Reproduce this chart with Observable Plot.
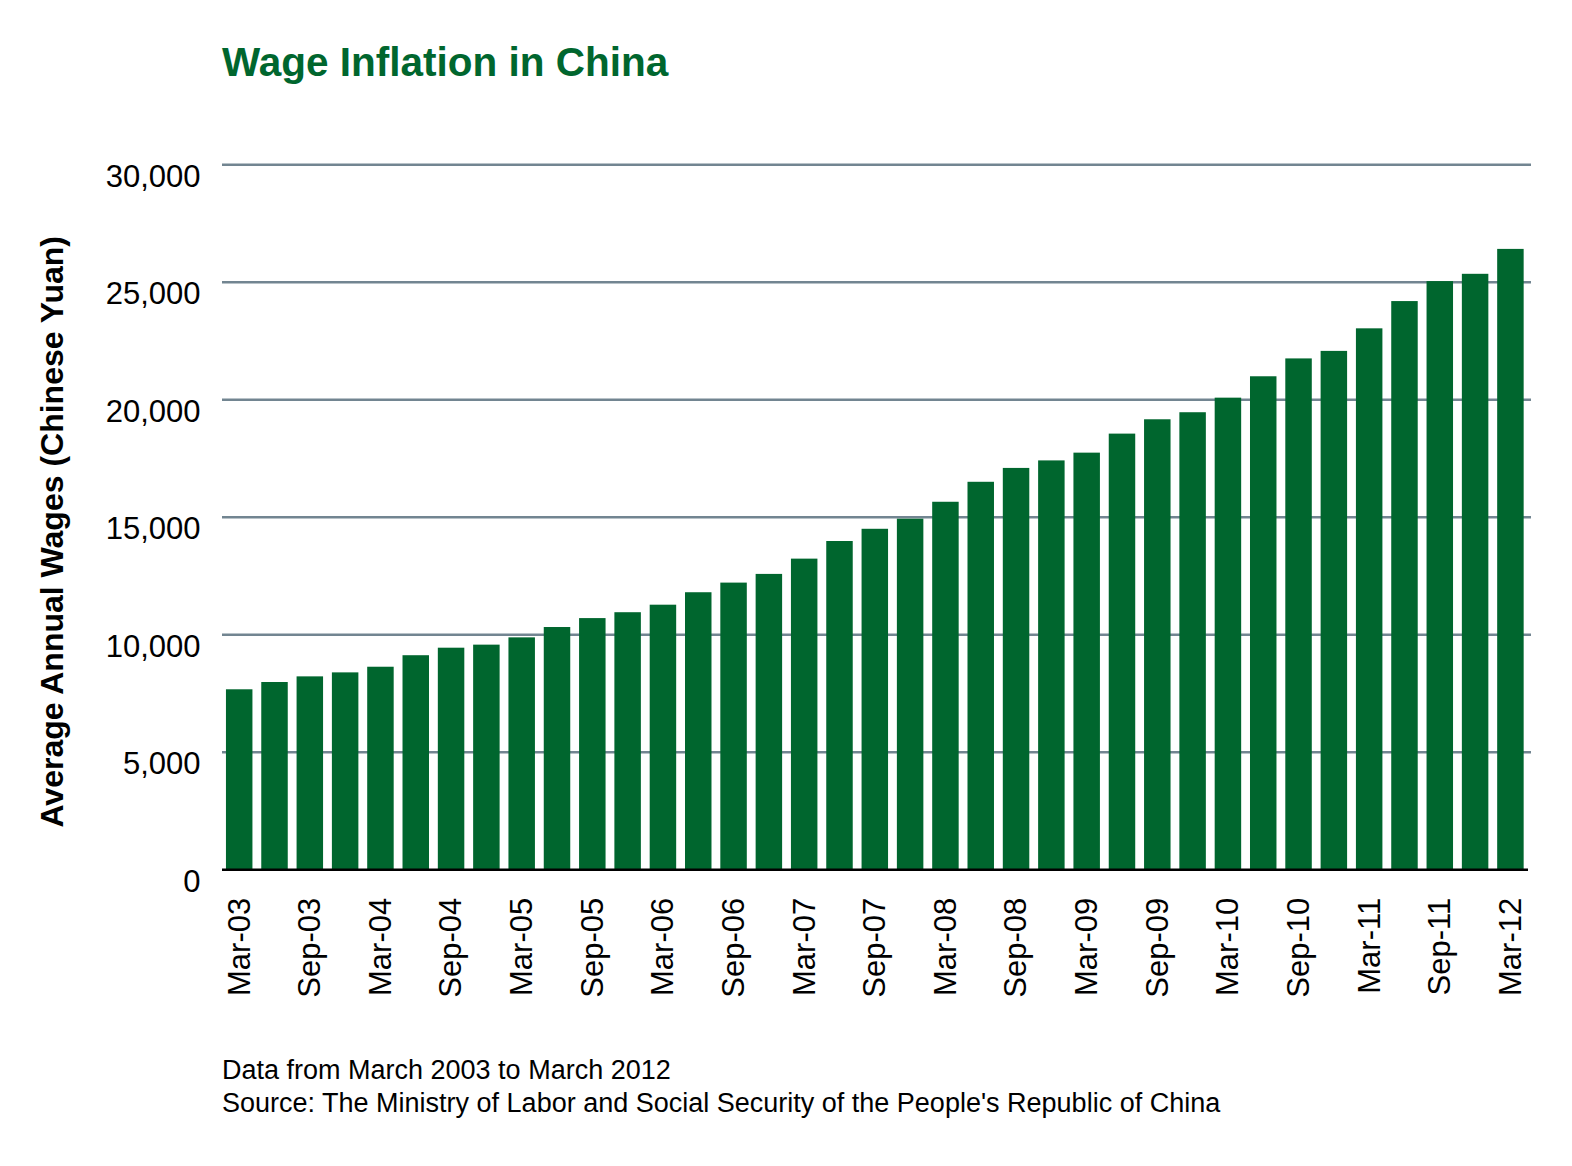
<!DOCTYPE html>
<html>
<head>
<meta charset="utf-8">
<script src="https://cdn.jsdelivr.net/npm/d3@7"></script>
<script src="https://cdn.jsdelivr.net/npm/@observablehq/plot@0.6"></script>
<style>
  body { margin: 0; background: white; }
  #wrap { position: relative; width: 1572px; height: 1166px; background: white; font-family: "Liberation Sans", Arial, sans-serif; }
  #title { position: absolute; left: 222px; top: 42px; font-weight: bold; font-size: 40.5px; line-height: 40px; color: #00662E; white-space: nowrap; }
  #chart { position: absolute; left: 0; top: 100px; }
  #foot { position: absolute; left: 222px; top: 1054px; font-size: 27px; line-height: 33px; color: #000; white-space: nowrap; }
</style>
</head>
<body>
<div id="wrap">
  <div id="title"></div>
  <div id="chart"></div>
  <div id="foot"></div>
</div>
<script>
const titleText = "Wage Inflation in China";
const yLabel = "Average Annual Wages (Chinese Yuan)";
const footLines = [
  "Data from March 2003 to March 2012",
  "Source: The Ministry of Labor and Social Security of the People's Republic of China"
];

const quarters = [
  "Mar-03","Jun-03","Sep-03","Dec-03",
  "Mar-04","Jun-04","Sep-04","Dec-04",
  "Mar-05","Jun-05","Sep-05","Dec-05",
  "Mar-06","Jun-06","Sep-06","Dec-06",
  "Mar-07","Jun-07","Sep-07","Dec-07",
  "Mar-08","Jun-08","Sep-08","Dec-08",
  "Mar-09","Jun-09","Sep-09","Dec-09",
  "Mar-10","Jun-10","Sep-10","Dec-10",
  "Mar-11","Jun-11","Sep-11","Dec-11",
  "Mar-12"
];

const wages = [
  7660, 7970, 8210, 8380,
  8620, 9110, 9430, 9560,
  9870, 10310, 10690, 10940,
  11260, 11790, 12200, 12570,
  13220, 13970, 14490, 14920,
  15640, 16490, 17080, 17400,
  17730, 18540, 19150, 19450,
  20070, 20980, 21740, 22060,
  23020, 24180, 25030, 25340,
  26400
];

const xTickLabels = [
  "Mar-03","Sep-03","Mar-04","Sep-04","Mar-05","Sep-05","Mar-06","Sep-06",
  "Mar-07","Sep-07","Mar-08","Sep-08","Mar-09","Sep-09","Mar-10","Sep-10",
  "Mar-11","Sep-11","Mar-12"
];

const yTicks = [0, 5000, 10000, 15000, 20000, 25000, 30000];

const data = quarters.map((q, i) => ({quarter: q, wage: wages[i]}));

document.getElementById("title").textContent = titleText;
document.getElementById("foot").innerHTML = footLines.map(s => s.replace(/&/g,"&amp;").replace(/</g,"&lt;")).join("<br>");

const chart = Plot.plot({
  width: 1572,
  height: 940,
  marginLeft: 222,
  marginRight: 41,
  marginTop: 64.3,
  marginBottom: 170.7,
  style: {fontFamily: "'Liberation Sans', Arial, sans-serif", background: "white", overflow: "visible", color: "black"},
  x: {type: "band", domain: quarters, paddingInner: 0.25, paddingOuter: 0.16, align: 0.35, round: false},
  y: {domain: [0, 30000]},
  marks: [
    Plot.ruleY(yTicks.filter(d => d > 0), {stroke: "#728591", strokeWidth: 2.5}),
    Plot.barY(data, {x: "quarter", y: "wage", fill: "#00662E"}),
    Plot.ruleY([0], {stroke: "black", strokeWidth: 2.5, insetRight: 3}),
    Plot.axisY({ticks: yTicks, tickSize: 0, tickPadding: 22, dy: 12, fontSize: 31, tickFormat: d3.format(","), label: null}),
    Plot.axisX({ticks: xTickLabels, tickSize: 0, tickRotate: -90, tickPadding: 28, fontSize: 31, label: null}),
    Plot.text([yLabel], {text: d => d, frameAnchor: "left", dx: -170, dy: 14.5, rotate: -90, textAnchor: "middle", fontWeight: "bold", fontSize: 32, fill: "black"})
  ]
});
document.getElementById("chart").appendChild(chart);
</script>
</body>
</html>
